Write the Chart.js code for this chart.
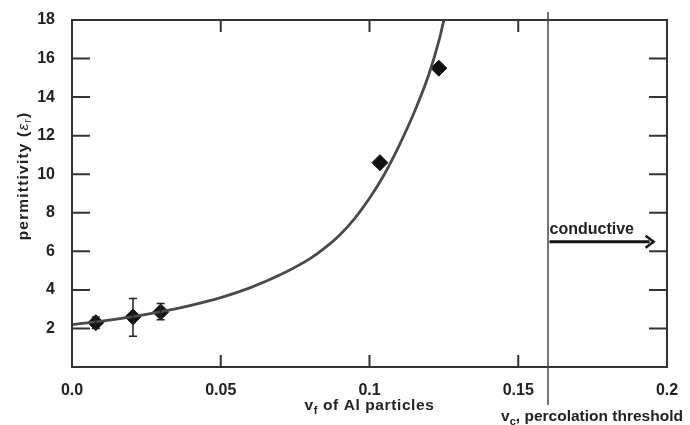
<!DOCTYPE html>
<html>
<head>
<meta charset="utf-8">
<script src="https://cdn.jsdelivr.net/npm/chart.js@4.4.1/dist/chart.umd.min.js"></script>
<style>
  html, body { margin: 0; padding: 0; background: #fff; }
  #wrap { width: 690px; height: 425px; }
</style>
</head>
<body>
<div id="wrap"><canvas id="chart" width="690" height="425"></canvas></div>
<script>
// fitted curve
const fitX = [0, 0.01, 0.02, 0.03, 0.04, 0.05, 0.06, 0.07, 0.08, 0.085, 0.09, 0.095, 0.1, 0.105, 0.11, 0.115, 0.12, 0.1233, 0.125];
const fitY = [2.2, 2.38, 2.6, 2.87, 3.2, 3.6, 4.12, 4.78, 5.62, 6.18, 6.85, 7.7, 8.75, 10.0, 11.5, 13.2, 15.2, 16.9, 18];

// measured points + error bars
const measX = [0.008, 0.0205, 0.0298, 0.1035, 0.1233];
const measY = [2.3, 2.6, 2.85, 10.6, 15.5];
const errLow = [2.0, 1.6, 2.45, null, null];
const errHigh = [2.6, 3.55, 3.3, null, null];

const xTicks = [0, 0.05, 0.1, 0.15, 0.2];
const xTickLabels = ["0.0", "0.05", "0.1", "0.15", "0.2"];
const yTicks = [2, 4, 6, 8, 10, 12, 14, 16, 18];

const percThreshold = 0.16;
const conductiveY = 6.5;

const FONT = "'Liberation Sans', Arial, sans-serif";
const INK = "#222";

const decorPlugin = {
  id: "decor",
  afterDatasetsDraw(chart) {
    const { ctx, chartArea: a, scales: { x, y } } = chart;
    ctx.save();

    // error bars
    ctx.strokeStyle = "#222";
    ctx.lineWidth = 1.5;
    measX.forEach((vx, i) => {
      if (errLow[i] == null) return;
      const px = x.getPixelForValue(vx);
      const y1 = y.getPixelForValue(errLow[i]);
      const y2 = y.getPixelForValue(errHigh[i]);
      ctx.beginPath();
      ctx.moveTo(px, y1); ctx.lineTo(px, y2);
      ctx.moveTo(px - 4, y1); ctx.lineTo(px + 4, y1);
      ctx.moveTo(px - 4, y2); ctx.lineTo(px + 4, y2);
      ctx.stroke();
    });

    // frame
    ctx.strokeStyle = "#333";
    ctx.lineWidth = 2;
    ctx.strokeRect(a.left, a.top, a.right - a.left, a.bottom - a.top);

    // inward ticks
    ctx.beginPath();
    yTicks.forEach((v) => {
      if (v >= 18) return;
      const py = y.getPixelForValue(v);
      ctx.moveTo(a.left, py); ctx.lineTo(a.left + 18, py);
      ctx.moveTo(a.right, py); ctx.lineTo(a.right - 18, py);
    });
    xTicks.forEach((v) => {
      if (v <= 0 || v >= 0.2) return;
      const px = x.getPixelForValue(v);
      ctx.moveTo(px, a.bottom); ctx.lineTo(px, a.bottom - 12);
      ctx.moveTo(px, a.top); ctx.lineTo(px, a.top + 12);
    });
    ctx.stroke();

    // percolation threshold line
    const vc = x.getPixelForValue(percThreshold);
    ctx.strokeStyle = "#444";
    ctx.lineWidth = 1.5;
    ctx.beginPath();
    ctx.moveTo(vc, a.top - 8);
    ctx.lineTo(vc, a.bottom + 38);
    ctx.stroke();

    // conductive arrow
    const ay = y.getPixelForValue(conductiveY);
    const ax1 = x.getPixelForValue(0.1605);
    const ax2 = x.getPixelForValue(0.1955);
    ctx.strokeStyle = "#111";
    ctx.lineWidth = 3;
    ctx.beginPath();
    ctx.moveTo(ax1, ay); ctx.lineTo(ax2 - 4, ay);
    ctx.stroke();
    ctx.lineWidth = 2.5;
    ctx.beginPath();
    ctx.moveTo(ax2 - 8, ay - 6); ctx.lineTo(ax2, ay); ctx.lineTo(ax2 - 8, ay + 6);
    ctx.stroke();

    ctx.fillStyle = INK;
    ctx.font = "bold 16px " + FONT;
    ctx.textAlign = "left";
    ctx.textBaseline = "alphabetic";
    ctx.fillText("conductive", ax1, ay - 8);

    // x title: v_f of Al particles
    drawSubText(ctx, "v", "f", " of Al particles", (a.left + a.right) / 2, 410, 15.5, "0.6px");

    // v_c label
    drawSubText(ctx, "v", "c", ", percolation threshold", 592, 421, 15.5, "0px");

    // y title
    ctx.save();
    ctx.translate(24, 176);
    ctx.rotate(-Math.PI / 2);
    ctx.letterSpacing = "1.2px";
    ctx.fillStyle = INK;
    const t1 = "permittivity (";
    const t2 = "ε";
    const t3 = ")";
    ctx.font = "bold 15.5px " + FONT;
    const w1 = ctx.measureText(t1).width;
    ctx.font = "italic 15.5px " + FONT;
    const w2 = ctx.measureText(t2).width;
    ctx.font = "10px " + FONT;
    const ws = ctx.measureText("r").width;
    ctx.font = "bold 15.5px " + FONT;
    const w3 = ctx.measureText(t3).width;
    let cx = -(w1 + w2 + ws + w3) / 2;
    ctx.textBaseline = "middle";
    ctx.fillText(t1, cx, 0); cx += w1;
    ctx.font = "italic 15.5px " + FONT;
    ctx.fillText(t2, cx, 0); cx += w2;
    ctx.font = "10px " + FONT;
    ctx.fillText("r", cx, 4); cx += ws;
    ctx.font = "bold 15.5px " + FONT;
    ctx.fillText(t3, cx, 0);
    ctx.restore();

    ctx.restore();
  },
};

function drawSubText(ctx, base, sub, rest, centerX, baseY, size, spacing) {
  ctx.save();
  ctx.letterSpacing = spacing;
  ctx.fillStyle = INK;
  ctx.textBaseline = "alphabetic";
  ctx.textAlign = "left";
  ctx.font = "bold " + size + "px " + FONT;
  const wb = ctx.measureText(base).width;
  const wr = ctx.measureText(rest).width;
  ctx.font = "bold " + Math.round(size * 0.7) + "px " + FONT;
  const wsub = ctx.measureText(sub).width;
  let cx = centerX - (wb + wsub + wr) / 2;
  ctx.font = "bold " + size + "px " + FONT;
  ctx.fillText(base, cx, baseY); cx += wb;
  ctx.font = "bold " + Math.round(size * 0.7) + "px " + FONT;
  ctx.fillText(sub, cx, baseY + 4); cx += wsub;
  ctx.font = "bold " + size + "px " + FONT;
  ctx.fillText(rest, cx, baseY);
  ctx.restore();
}

new Chart(document.getElementById("chart"), {
  type: "scatter",
  data: {
    datasets: [
      {
        type: "line",
        label: "fit",
        data: fitX.map((v, i) => ({ x: v, y: fitY[i] })),
        borderColor: "#4a4a4a",
        borderWidth: 2.8,
        pointRadius: 0,
        fill: false,
        cubicInterpolationMode: "monotone",
      },
      {
        label: "measured",
        data: measX.map((v, i) => ({ x: v, y: measY[i] })),
        pointStyle: "rectRot",
        pointRadius: 8,
        backgroundColor: "#111",
        borderColor: "#111",
      },
    ],
  },
  options: {
    responsive: false,
    animation: false,
    events: [],
    layout: { padding: { top: 20, right: 23, left: 0, bottom: 0 } },
    plugins: { legend: { display: false }, tooltip: { enabled: false } },
    scales: {
      x: {
        type: "linear",
        min: 0,
        max: 0.2,
        afterBuildTicks: (s) => { s.ticks = xTicks.map((v) => ({ value: v })); },
        afterFit: (s) => { s.height = 58; },
        ticks: {
          callback: (v) => xTickLabels[xTicks.indexOf(v)] ?? "",
          font: { family: FONT, size: 16, weight: "bold" },
          color: INK,
          padding: 6,
          maxRotation: 0,
        },
        grid: { display: false },
        border: { display: false },
      },
      y: {
        min: 0,
        max: 18,
        afterBuildTicks: (s) => { s.ticks = yTicks.map((v) => ({ value: v })); },
        afterFit: (s) => { s.width = 72; },
        ticks: {
          font: { family: FONT, size: 16, weight: "bold" },
          color: INK,
          padding: 9,
        },
        grid: { display: false },
        border: { display: false },
      },
    },
  },
  plugins: [decorPlugin],
});
</script>
</body>
</html>
